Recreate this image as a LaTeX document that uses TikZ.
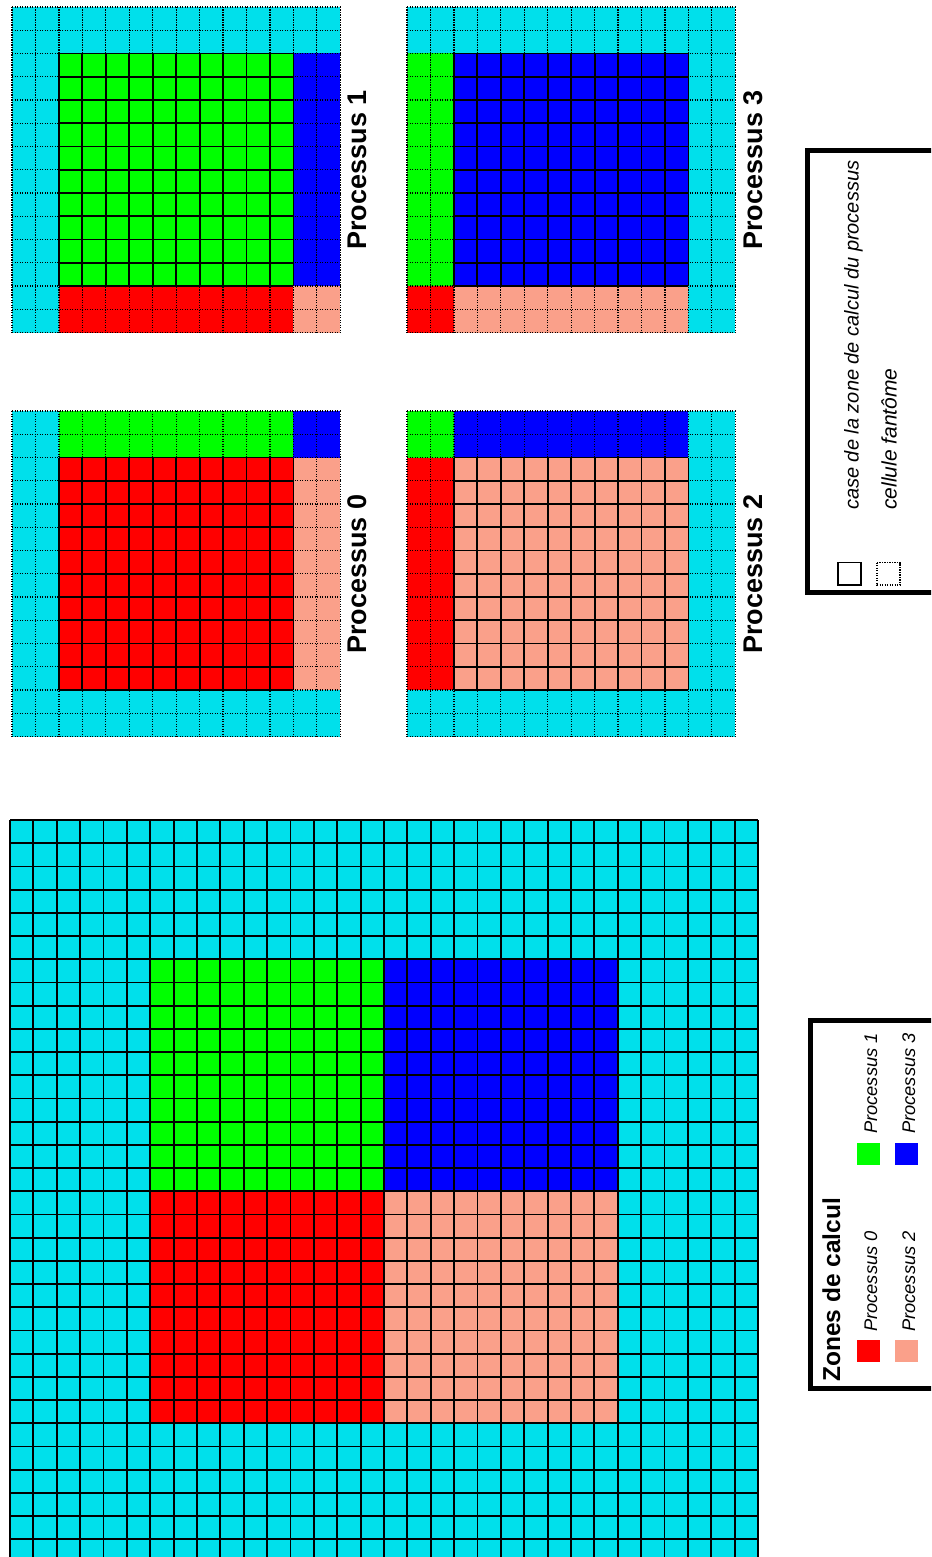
\documentclass[tikz,border=0pt]{standalone}
\usepackage{fontspec}
\setmainfont{Liberation Sans}
\definecolor{ghost}{RGB}{0,224,235}
\definecolor{pzero}{RGB}{255,0,0}
\definecolor{pone}{RGB}{0,255,0}
\definecolor{ptwo}{RGB}{250,160,138}
\definecolor{pthree}{RGB}{0,0,255}
\tikzset{
  gridline/.style={line width=1.8pt, black},
  ghostline/.style={line width=1.2pt, black, dash pattern=on 1.2pt off 1.3pt},
  plabel/.style={rotate=90, anchor=base, inner sep=0pt, font=\fontsize{27}{32}\selectfont\bfseries},
  legtext/.style={rotate=90, anchor=base west, inner sep=0pt, font=\fontsize{20}{24}\selectfont\itshape},
  zonetext/.style={rotate=90, anchor=base west, inner sep=0pt, font=\fontsize{18.3}{22}\selectfont\itshape},
  legtitle/.style={rotate=90, anchor=base west, inner sep=0pt, font=\fontsize{24.5}{28}\selectfont\bfseries},
  legbox/.style={line width=5pt, black},
  cellsolid/.style={line width=1.4pt, black},
  celldot/.style={line width=1.2pt, black, dash pattern=on 1.2pt off 1.3pt},
}
\begin{document}
\begin{tikzpicture}[x=1pt, y=-1pt]
\clip (0,0) rectangle (931,1557);
\useasboundingbox (0,0) rectangle (931,1557);

% ---------- Processus 1 ----------
\begin{scope}[shift={(12,7)}, x=23.45pt, y=-23.25pt]
  \fill[ghost] (0,0) rectangle (14,14);
  \fill[pone] (2,2) rectangle (12,12);
  \fill[pthree] (12,2) rectangle (14,12);
  \fill[pzero] (2,12) rectangle (12,14);
  \fill[ptwo] (12,12) rectangle (14,14);
  \foreach \i in {0,...,14} {\draw[ghostline] (\i,0) -- (\i,14); \draw[ghostline] (0,\i) -- (14,\i);}
  \foreach \i in {2,...,12} {\draw[gridline] (\i,2) -- (\i,12); \draw[gridline] (2,\i) -- (12,\i);}
\end{scope}
% ---------- Processus 0 ----------
\begin{scope}[shift={(12,411)}, x=23.45pt, y=-23.25pt]
  \fill[ghost] (0,0) rectangle (14,14);
  \fill[pone] (2,0) rectangle (12,2);
  \fill[pthree] (12,0) rectangle (14,2);
  \fill[pzero] (2,2) rectangle (12,12);
  \fill[ptwo] (12,2) rectangle (14,12);
  \foreach \i in {0,...,14} {\draw[ghostline] (\i,0) -- (\i,14); \draw[ghostline] (0,\i) -- (14,\i);}
  \foreach \i in {2,...,12} {\draw[gridline] (\i,2) -- (\i,12); \draw[gridline] (2,\i) -- (12,\i);}
\end{scope}
% ---------- Processus 3 ----------
\begin{scope}[shift={(407,7)}, x=23.45pt, y=-23.25pt]
  \fill[ghost] (0,0) rectangle (14,14);
  \fill[pone] (0,2) rectangle (2,12);
  \fill[pthree] (2,2) rectangle (12,12);
  \fill[pzero] (0,12) rectangle (2,14);
  \fill[ptwo] (2,12) rectangle (12,14);
  \foreach \i in {0,...,14} {\draw[ghostline] (\i,0) -- (\i,14); \draw[ghostline] (0,\i) -- (14,\i);}
  \foreach \i in {2,...,12} {\draw[gridline] (\i,2) -- (\i,12); \draw[gridline] (2,\i) -- (12,\i);}
\end{scope}
% ---------- Processus 2 ----------
\begin{scope}[shift={(407,411)}, x=23.45pt, y=-23.25pt]
  \fill[ghost] (0,0) rectangle (14,14);
  \fill[pone] (0,0) rectangle (2,2);
  \fill[pthree] (2,0) rectangle (12,2);
  \fill[pzero] (0,2) rectangle (2,12);
  \fill[ptwo] (2,2) rectangle (12,12);
  \foreach \i in {0,...,14} {\draw[ghostline] (\i,0) -- (\i,14); \draw[ghostline] (0,\i) -- (14,\i);}
  \foreach \i in {2,...,12} {\draw[gridline] (\i,2) -- (\i,12); \draw[gridline] (2,\i) -- (12,\i);}
\end{scope}

% process labels
\node[plabel] (lab1) at (366.5,170) {Processus 1};
\node[plabel] (lab0) at (366.5,574) {Processus 0};
\node[plabel] (lab3) at (762.5,170) {Processus 3};
\node[plabel] (lab2) at (762.5,574) {Processus 2};

% ---------- big grid ----------
\begin{scope}[shift={(10,820)}, x=23.375pt, y=-23.2pt]
  \fill[ghost] (0,0) rectangle (32,32);
  \fill[pone] (6,6) rectangle (16,16);
  \fill[pthree] (16,6) rectangle (26,16);
  \fill[pzero] (6,16) rectangle (16,26);
  \fill[ptwo] (16,16) rectangle (26,26);
  \foreach \i in {0,...,32} {\draw[gridline] (\i,0) -- (\i,32); \draw[gridline] (0,\i) -- (32,\i);}
\end{scope}

% ---------- legend: cells ----------
\draw[legbox] (807.5,150.5) rectangle (960,592.5);
\draw[cellsolid] (838,562.5) rectangle (861,585);
\node[legtext] (lsolid) at (858.5,510) {case de la zone de calcul du processus};
\draw[celldot] (877,562.5) rectangle (900,585);
\node[legtext, font=\fontsize{21}{25}\selectfont\itshape] (lghost) at (896.5,510) {cellule fantôme};

% ---------- legend: zones ----------
\draw[legbox] (810.5,1020.5) rectangle (960,1388.5);
\node[legtitle] (ltitle) at (840,1382) {Zones de calcul};
\fill[pzero] (857,1340) rectangle (880,1362);
\node[zonetext] (lp0) at (877,1332) {Processus 0};
\fill[ptwo] (895,1340) rectangle (918,1362);
\node[zonetext] (lp2) at (915,1332) {Processus 2};
\fill[pone] (857,1143) rectangle (880,1165);
\node[zonetext] (lp1) at (877,1134) {Processus 1};
\fill[pthree] (895,1143) rectangle (918,1165);
\node[zonetext] (lp3) at (915,1134) {Processus 3};
\end{tikzpicture}
\end{document}
